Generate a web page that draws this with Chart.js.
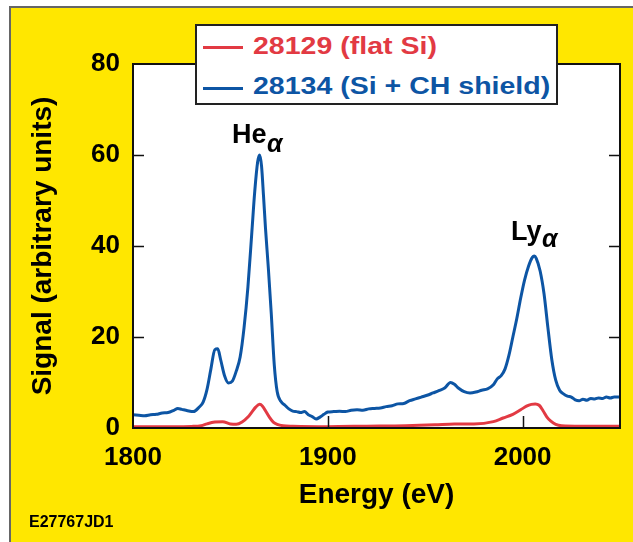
<!DOCTYPE html>
<html>
<head>
<meta charset="utf-8">
<script src="https://cdn.jsdelivr.net/npm/chart.js@4"></script>
<style>
  html, body { margin: 0; padding: 0; background: #fff; }
  #wrap { position: relative; width: 633px; height: 542px; overflow: hidden; }
  #panel { position: absolute; left: 9px; top: 6px; right: 0; bottom: 0;
           background: #FFE700; border-left: 2px solid #666; border-top: 2px solid #666; }
  #chart { position: absolute; left: 0; top: 0; }
  .txt { position: absolute; font-family: 'Liberation Sans', Arial, sans-serif; font-weight: bold;
         line-height: 1; white-space: nowrap; color: #000; }
  #legend { position: absolute; left: 195px; top: 24px; width: 363px; height: 81px; box-sizing: border-box;
            background: #fff; border: 2px solid #222; }
  .lg-line { position: absolute; left: 6px; width: 40px; height: 3px; }
  .lg-text { position: absolute; left: 56px; font-size: 23px; transform: scaleX(1.24); transform-origin: left top; }
  .greek { font-style: italic; font-size: 25px; }
</style>
</head>
<body>
<div id="wrap">
  <div id="panel"></div>
  <canvas id="chart" width="633" height="542"></canvas>

  <div id="legend">
    <div class="lg-line" style="top:20px;background:#E23A43"></div>
    <div class="txt lg-text" style="top:9px;color:#E23A43">28129 (flat Si)</div>
    <div class="lg-line" style="top:61px;background:#0D55A4"></div>
    <div class="txt lg-text" style="top:49px;color:#0D55A4">28134 (Si + CH shield)</div>
  </div>

  <div class="txt" style="left:232px;top:121px;font-size:27px">He</div>
  <div class="txt greek" style="left:267px;top:131px">α</div>
  <div class="txt" style="left:511px;top:218px;font-size:27px">Ly</div>
  <div class="txt greek" style="left:542px;top:226px">α</div>

  <div class="txt" style="left:29px;top:514px;font-size:16px">E27767JD1</div>
</div>

<script>
// ---- data ----
const flatEnergy = [1800, 1810, 1820, 1830, 1835, 1838, 1842, 1846, 1850, 1853, 1856, 1859, 1861, 1863, 1865,
  1866.5, 1868, 1870, 1872, 1874, 1877, 1882, 1900, 1920, 1940, 1955, 1965, 1975, 1985, 1990, 1995, 1999,
  2002, 2004.5, 2006.5, 2008.5, 2010.5, 2012.5, 2014.5, 2017, 2020, 2030, 2050];
const flatSignal = [0.3, 0.3, 0.3, 0.35, 0.5, 0.9, 1.3, 1.4, 0.9, 0.8, 1.3, 2.4, 3.5, 4.6, 5.2,
  4.8, 3.8, 2.4, 1.3, 0.8, 0.5, 0.4, 0.3, 0.4, 0.5, 0.7, 0.9, 0.9, 1.4, 2.2, 3.0, 4.0,
  4.8, 5.2, 5.3, 5.0, 3.8, 2.4, 1.5, 0.8, 0.5, 0.4, 0.4];

const shieldEnergy = [1800, 1803, 1806, 1809, 1812, 1815, 1818, 1821, 1823, 1825, 1828, 1831, 1834, 1836, 1838,
  1840, 1842, 1843.5, 1845, 1847, 1849, 1851, 1853, 1855, 1857, 1859, 1861, 1862.5, 1864, 1865, 1866, 1867,
  1868, 1869.5, 1871, 1872.5, 1874, 1876, 1878, 1880, 1882, 1884, 1886, 1888, 1890, 1892, 1894, 1896, 1898,
  1900, 1903, 1906, 1909, 1912, 1915, 1918, 1921, 1924, 1927, 1930, 1933, 1936, 1939, 1942, 1945, 1948, 1951,
  1954, 1957, 1960, 1963, 1965, 1967, 1970, 1973, 1976, 1979, 1982, 1985, 1987, 1989, 1991, 1993, 1995, 1997,
  1999, 2001, 2003, 2005, 2006, 2007, 2009, 2011, 2013, 2015, 2017, 2019, 2021, 2023, 2025, 2027, 2029, 2031,
  2033, 2035, 2037, 2039, 2041, 2043, 2045, 2047, 2050];
const shieldSignal = [2.9, 2.8, 2.7, 2.9, 3.0, 3.3, 3.4, 3.9, 4.3, 4.1, 3.8, 3.6, 4.6, 5.7, 8.5,
  13, 17.2, 17.4, 15, 11.5, 9.9, 10.3, 12.5, 15.6, 22, 31, 43, 52, 58.5, 60, 57.5, 51,
  44, 35, 25, 14, 8, 5.8, 5, 4.2, 3.7, 3.6, 3.4, 3.6, 2.9, 2.5, 2.0, 2.4, 3.0,
  3.5, 3.6, 3.7, 3.6, 3.9, 4.0, 3.9, 4.2, 4.3, 4.4, 4.7, 4.9, 5.3, 5.4, 6.0, 6.4, 6.8, 7.2,
  7.7, 8.2, 8.8, 10.0, 9.6, 8.8, 8.0, 7.7, 7.9, 8.3, 8.6, 9.5, 10.8, 11.5, 13, 16, 20, 24,
  28.5, 32.5, 35.5, 37.5, 37.8, 37.3, 34.5, 29.5, 22, 15, 10.5, 8.3, 7.5, 7.0, 6.8, 6.2, 6.0, 6.3,
  6.1, 6.5, 6.4, 6.6, 6.5, 6.8, 6.6, 6.8, 6.8];

const xTicks = [1800, 1900, 2000];
const yTicks = [0, 20, 40, 60, 80];

const RED = '#E23A43';
const BLUE = '#0D55A4';

function toPoints(xs, ys) {
  return xs.map((x, i) => ({ x: x, y: ys[i] }));
}

// white plot area, frame and inward tick marks
const framePlugin = {
  id: 'frame',
  beforeDatasetsDraw(chart) {
    const { ctx, chartArea: a } = chart;
    ctx.save();
    ctx.fillStyle = '#fff';
    ctx.fillRect(a.left, a.top, a.right - a.left, a.bottom - a.top);
    ctx.restore();
  },
  afterDatasetsDraw(chart) {
    const { ctx, chartArea: a, scales } = chart;
    ctx.save();
    ctx.strokeStyle = '#111';
    ctx.lineWidth = 1.5;
    ctx.beginPath();
    yTicks.slice(1, -1).forEach(v => {
      const py = Math.round(scales.y.getPixelForValue(v)) + 0.5;
      ctx.moveTo(a.left, py); ctx.lineTo(a.left + 11, py);
      ctx.moveTo(a.right, py); ctx.lineTo(a.right - 11, py);
    });
    xTicks.slice(1).forEach(v => {
      const px = Math.round(scales.x.getPixelForValue(v)) + 0.5;
      ctx.moveTo(px, a.bottom); ctx.lineTo(px, a.bottom - 12);
    });
    ctx.stroke();
    ctx.lineWidth = 2;
    ctx.strokeRect(a.left, a.top, a.right - a.left, a.bottom - a.top);
    ctx.restore();
  }
};

const tickFont = { family: "'Liberation Sans', Arial, sans-serif", size: 26, weight: 'bold' };
const titleFont = { family: "'Liberation Sans', Arial, sans-serif", size: 28, weight: 'bold' };

new Chart(document.getElementById('chart'), {
  type: 'line',
  data: {
    datasets: [
      {
        label: '28129 (flat Si)',
        data: toPoints(flatEnergy, flatSignal),
        borderColor: RED,
        borderWidth: 3,
        pointRadius: 0,
        cubicInterpolationMode: 'monotone',
        fill: false
      },
      {
        label: '28134 (Si + CH shield)',
        data: toPoints(shieldEnergy, shieldSignal),
        borderColor: BLUE,
        borderWidth: 3,
        pointRadius: 0,
        cubicInterpolationMode: 'monotone',
        fill: false
      }
    ]
  },
  options: {
    responsive: false,
    devicePixelRatio: 1,
    animation: false,
    layout: { padding: { top: 64, right: 13, left: 0, bottom: 0 } },
    plugins: {
      legend: { display: false },
      tooltip: { enabled: false }
    },
    scales: {
      x: {
        type: 'linear',
        min: 1800,
        max: 2050,
        afterFit: s => { s.height = 114; },
        afterBuildTicks: s => { s.ticks = xTicks.map(v => ({ value: v })); },
        grid: { display: false, drawTicks: false },
        border: { display: false },
        ticks: { color: '#000', font: tickFont, padding: 14, maxRotation: 0, callback: v => String(v) },
        title: { display: true, text: 'Energy (eV)', color: '#000', font: titleFont, padding: { top: 0, bottom: 30 } }
      },
      y: {
        min: 0,
        max: 80,
        afterFit: s => { s.width = 133; },
        afterBuildTicks: s => { s.ticks = yTicks.map(v => ({ value: v })); },
        grid: { display: false, drawTicks: false },
        border: { display: false },
        ticks: { color: '#000', font: tickFont, padding: 13, callback: v => String(v) },
        title: { display: true, text: 'Signal (arbitrary units)', color: '#000', font: titleFont, padding: { top: 26, bottom: 0 } }
      }
    }
  },
  plugins: [framePlugin]
});
</script>
</body>
</html>
